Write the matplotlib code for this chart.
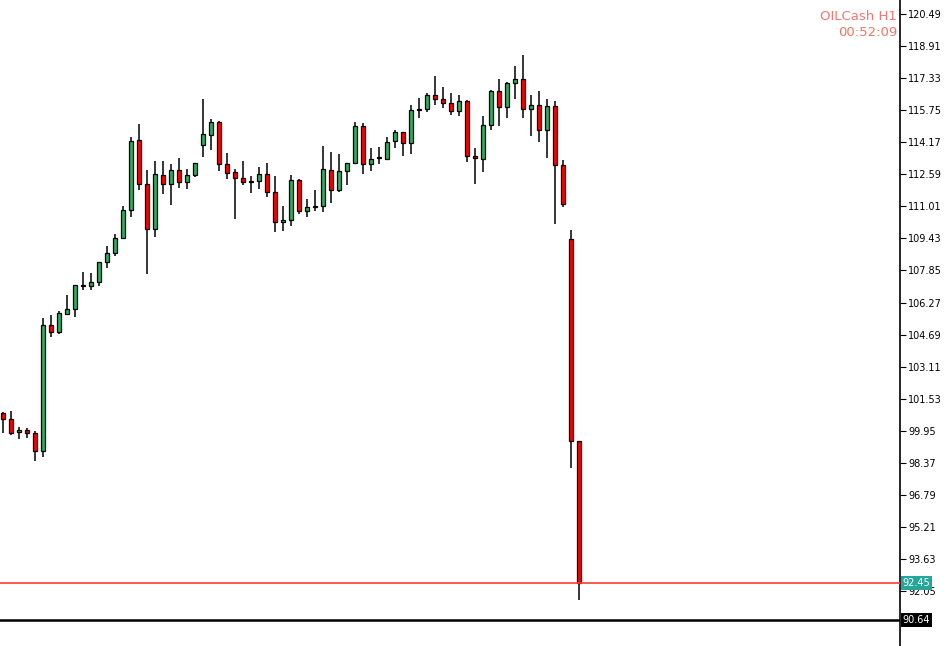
import matplotlib
matplotlib.use("Agg")
import matplotlib.pyplot as plt
from matplotlib.patches import Rectangle

# OILCash H1 candles (open, high, low, close)
opens = [100.81, 100.51, 99.87, 99.97, 99.82, 98.93, 105.14, 104.80, 105.69, 105.93,
         107.12, 107.07, 107.26, 108.25, 108.69, 109.43, 110.81, 114.26, 112.09, 109.88,
         112.54, 112.09, 112.78, 112.19, 112.54, 114.02, 114.51, 115.15, 113.08, 112.69,
         112.39, 112.24, 112.24, 112.59, 111.70, 110.22, 110.32, 112.29, 110.76, 110.99,
         111.01, 112.78, 111.80, 112.74, 113.13, 114.95, 113.08, 113.41, 113.33, 114.21,
         114.66, 114.12, 115.78, 115.79, 116.48, 116.28, 116.09, 115.69, 116.19, 113.47,
         113.33, 115.00, 116.68, 115.89, 117.07, 117.27, 115.79, 115.99, 114.76, 115.94,
         113.03, 109.40, 99.44]
highs = [100.86, 100.92, 100.12, 100.07, 99.92, 105.49, 105.64, 105.83, 106.62, 107.12,
         107.76, 107.71, 108.25, 109.05, 109.63, 111.01, 114.41, 115.05, 112.78, 113.23,
         113.23, 113.08, 113.38, 112.83, 113.13, 116.28, 115.30, 115.20, 113.62, 112.83,
         113.23, 112.49, 112.93, 113.13, 112.49, 111.01, 112.54, 112.34, 111.36, 111.80,
         113.97, 113.67, 113.57, 113.13, 115.15, 115.10, 113.87, 113.92, 114.41, 114.76,
         114.66, 115.99, 116.33, 116.58, 117.42, 116.88, 116.58, 116.48, 116.24, 113.87,
         115.45, 116.73, 117.27, 117.12, 117.91, 118.45, 116.48, 116.68, 116.28, 116.19,
         113.28, 109.84, 99.44]
lows = [99.82, 99.72, 99.53, 99.57, 98.44, 98.67, 104.55, 104.70, 105.64, 105.54,
        106.87, 106.87, 107.07, 107.95, 108.54, 109.38, 110.47, 111.80, 107.66, 109.48,
        111.60, 111.09, 111.90, 111.85, 112.44, 113.42, 113.77, 112.73, 112.34, 110.37,
        112.04, 111.65, 111.88, 111.49, 109.73, 109.78, 110.02, 110.62, 110.47, 110.76,
        110.71, 111.19, 111.70, 112.05, 113.08, 112.59, 112.74, 113.08, 113.33, 113.87,
        113.47, 113.57, 115.35, 115.64, 115.99, 115.84, 115.50, 115.45, 113.18, 112.09,
        112.69, 114.76, 114.95, 115.35, 116.28, 115.35, 114.46, 114.17, 113.38, 110.12,
        110.96, 98.11, 91.61]
closes = [100.51, 99.82, 99.97, 99.82, 98.93, 105.14, 104.80, 105.74, 105.93, 107.12,
          107.10, 107.26, 108.25, 108.69, 109.43, 110.81, 114.21, 112.09, 109.88, 112.59,
          112.09, 112.78, 112.19, 112.54, 113.13, 114.56, 115.15, 113.08, 112.64, 112.39,
          112.19, 112.21, 112.59, 111.70, 110.22, 110.32, 112.29, 110.76, 110.96, 111.01,
          112.83, 111.80, 112.74, 113.13, 114.95, 113.08, 113.33, 113.42, 114.17, 114.66,
          114.12, 115.74, 115.80, 116.48, 116.28, 116.09, 115.69, 116.19, 113.47, 113.38,
          115.00, 116.68, 115.89, 117.07, 117.27, 115.79, 115.99, 114.76, 115.94, 113.03,
          111.11, 99.44, 92.45]

price_ticks = [120.49, 118.91, 117.33, 115.75, 114.17, 112.59, 111.01, 109.43, 107.85,
               106.27, 104.69, 103.11, 101.53, 99.95, 98.37, 96.79, 95.21, 93.63, 92.05]
bid = 92.45
ask_line = 90.64
symbol = "OILCash H1"
timer = "00:52:09"

fig = plt.figure(figsize=(9.44, 6.46), dpi=100)
ax = fig.add_axes([0, 0, 900 / 944, 1])

for i, (o, h, l, c) in enumerate(zip(opens, highs, lows, closes)):
    col = "#2eaa62" if c >= o else "#ff0000"
    ax.vlines(i, l, h, color="black", linewidth=1.1, zorder=2)
    bottom = min(o, c)
    height = max(abs(c - o), 0.04)
    ax.add_patch(Rectangle((i - 0.28, bottom), 0.56, height, facecolor=col,
                           edgecolor="black", linewidth=0.9, zorder=3))

ax.axhline(bid, color="#ff3b30", linewidth=1.2, zorder=4)
ax.axhline(ask_line, color="black", linewidth=1.8, zorder=4)

ax.set_xlim(-0.375, 112.1)
ax.set_ylim(89.34, 121.18)

for s in ["top", "left", "bottom"]:
    ax.spines[s].set_visible(False)
ax.spines["right"].set_linewidth(1.2)
ax.set_xticks([])
ax.yaxis.tick_right()
ax.set_yticks(price_ticks)
ax.set_yticklabels([f"{t:.2f}" for t in price_ticks])
ax.tick_params(axis="y", labelsize=7, length=4, pad=2, direction="out")

ax.text(1.003, bid, f"{bid:.2f}", transform=ax.get_yaxis_transform(), fontsize=7,
        color="white", va="center", ha="left",
        bbox=dict(boxstyle="square,pad=0.2", fc="#26a69a", ec="none"), zorder=6)
ax.text(1.003, ask_line, f"{ask_line:.2f}", transform=ax.get_yaxis_transform(), fontsize=7,
        color="white", va="center", ha="left",
        bbox=dict(boxstyle="square,pad=0.2", fc="black", ec="none"), zorder=6)

ax.text(0.997, 0.975, symbol, transform=ax.transAxes, ha="right", va="center",
        fontsize=9.5, color="#f07878")
ax.text(0.997, 0.949, timer, transform=ax.transAxes, ha="right", va="center",
        fontsize=9.5, color="#f07860")

fig.savefig("out.png", dpi=100)
